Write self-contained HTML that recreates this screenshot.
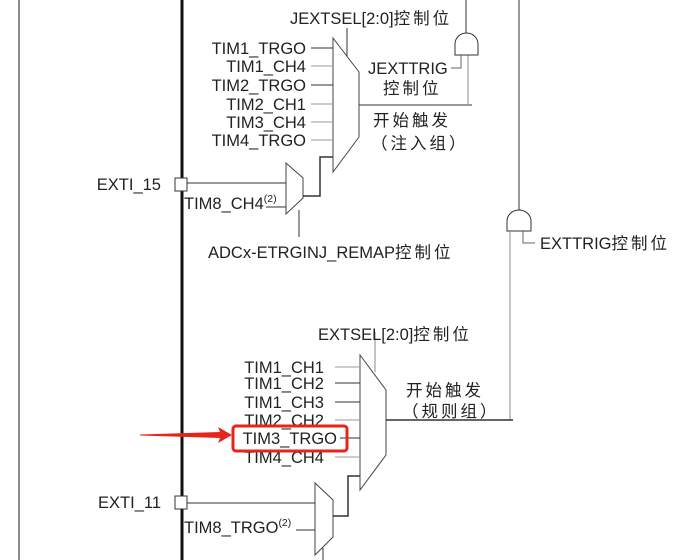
<!DOCTYPE html>
<html><head><meta charset="utf-8"><style>
html,body{margin:0;padding:0;background:#fff;}
svg{display:block;}
text{font-family:"Liberation Sans","Noto Sans CJK SC",sans-serif;font-size:16.5px;fill:#222;}
.c{letter-spacing:3px;}
</style></head><body>
<svg width="685" height="560" viewBox="0 0 685 560" xmlns="http://www.w3.org/2000/svg">
<g fill="none" stroke="#333" stroke-width="1">
<line x1="19" y1="0" x2="19" y2="560" stroke="#666" stroke-width="1.5"/>
<line x1="182" y1="0" x2="182" y2="560" stroke="#111" stroke-width="3"/>
<polygon points="333,38 359,72 359,137 333,172" stroke="#444"/>
<line x1="347" y1="28" x2="347" y2="56"/>
<line x1="311" y1="48" x2="333" y2="48"/>
<line x1="311" y1="66" x2="333" y2="66" stroke="#999"/>
<line x1="311" y1="85" x2="333" y2="85"/>
<line x1="311" y1="104" x2="333" y2="104" stroke="#999"/>
<line x1="311" y1="122" x2="333" y2="122" stroke="#999"/>
<line x1="311" y1="140" x2="333" y2="140" stroke="#999"/>
<polyline points="359,105 472,105"/>
<line x1="468" y1="55" x2="468" y2="105" stroke="#888"/>
<path d="M455,55 L455,44 A11.5,11 0 0 1 478,44 L478,55 Z"/>
<line x1="466" y1="0" x2="466" y2="33"/>
<polyline points="451,68 461,68 461,55" stroke="#666"/>
<polygon points="286,163 303,178 303,198 286,214" stroke="#444"/>
<rect x="175" y="178" width="12" height="13" stroke="#333" fill="#fff"/>
<line x1="187" y1="183" x2="286" y2="183"/>
<line x1="266" y1="207" x2="286" y2="207"/>
<polyline points="303,196 320,196 320,157 333,157" stroke-width="1.5"/>
<line x1="299" y1="210" x2="299" y2="237"/>
<line x1="519" y1="0" x2="519" y2="210"/>
<path d="M507,231 L507,221 A12,11 0 0 1 531,221 L531,231 Z"/>
<polyline points="523,231 523,243 535,243" stroke="#666"/>
<line x1="510" y1="231" x2="510" y2="420" stroke="#888"/>
<polygon points="360,355 386,390 386,455 360,490" stroke="#444"/>
<line x1="375" y1="332" x2="375" y2="372" stroke="#888"/>
<line x1="335" y1="367" x2="360" y2="367" stroke="#999"/>
<line x1="335" y1="383" x2="360" y2="383"/>
<line x1="335" y1="402" x2="360" y2="402"/>
<line x1="335" y1="420" x2="360" y2="420" stroke="#999"/>
<line x1="340" y1="438" x2="360" y2="438"/>
<line x1="335" y1="457" x2="360" y2="457" stroke="#999"/>
<line x1="386" y1="420" x2="513" y2="420" stroke-width="1.5"/>
<polygon points="315,483 333,500 333,537 315,555" stroke="#444"/>
<rect x="175" y="496" width="12" height="13" fill="#fff"/>
<line x1="187" y1="503" x2="315" y2="503"/>
<line x1="296" y1="530" x2="315" y2="530"/>
<polyline points="333,516 348,516 348,476 360,476" stroke-width="1.5"/>
<line x1="323" y1="548" x2="323" y2="560"/>
</g>
<text x="290" y="24">JEXTSEL[2:0]<tspan class="c">控制位</tspan></text>
<g text-anchor="end">
<text x="306" y="54">TIM1_TRGO</text>
<text x="306" y="72">TIM1_CH4</text>
<text x="306" y="91">TIM2_TRGO</text>
<text x="306" y="110">TIM2_CH1</text>
<text x="306" y="128">TIM3_CH4</text>
<text x="306" y="146">TIM4_TRGO</text>
<text x="324" y="373">TIM1_CH1</text>
<text x="324" y="389">TIM1_CH2</text>
<text x="324" y="408">TIM1_CH3</text>
<text x="324" y="426">TIM2_CH2</text>
<text x="337" y="444">TIM3_TRGO</text>
<text x="324" y="463">TIM4_CH4</text>
<text x="161" y="190">EXTI_15</text>
<text x="161" y="508">EXTI_11</text>
</g>
<text x="368" y="74">JEXTTRIG</text>
<text x="383" y="94" class="c">控制位</text>
<text x="373" y="126" class="c">开始触发</text>
<text x="371" y="149" class="c">（注入组）</text>
<text x="184" y="209">TIM8_CH4<tspan font-size="10.5" dy="-7">(2)</tspan></text>
<text x="208" y="258">ADCx-ETRGINJ_REMAP<tspan class="c">控制位</tspan></text>
<text x="540" y="249">EXTTRIG<tspan class="c">控制位</tspan></text>
<text x="318" y="340">EXTSEL[2:0]<tspan class="c">控制位</tspan></text>
<text x="406" y="396" class="c">开始触发</text>
<text x="402" y="417" class="c">（规则组）</text>
<text x="184" y="533">TIM8_TRGO<tspan font-size="10.5" dy="-7">(2)</tspan></text>
<rect x="233" y="426" width="114" height="25" rx="3" fill="none" stroke="#e8231a" stroke-width="3"/>
<polygon points="140,434.5 220,432 218,427 232,435 218,443 220,438 140,435.5" fill="#e8231a"/>
</svg>
</body></html>
